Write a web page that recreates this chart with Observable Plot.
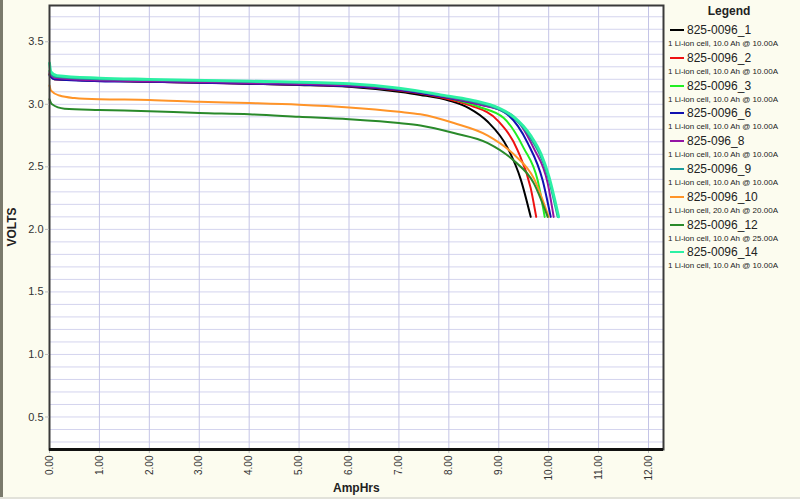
<!DOCTYPE html>
<html><head><meta charset="utf-8">
<script src="https://cdn.jsdelivr.net/npm/d3@7"></script>
<script src="https://cdn.jsdelivr.net/npm/@observablehq/plot@0.6"></script>
<style>
html,body{margin:0;padding:0;}
body{width:800px;height:499px;background:#fcfcef;position:relative;overflow:hidden;font-family:"Liberation Sans",Arial,sans-serif;}
#edge{position:absolute;left:0;top:0;width:3px;height:499px;background:#7a7a6c;}
#bedge{position:absolute;left:0;top:497px;width:800px;height:2px;background:#e2e2da;}
#chart{position:absolute;left:0;top:0;}
#legend{position:absolute;left:665px;top:0;width:135px;height:300px;}
#legend .title{position:absolute;left:0;top:4px;width:128px;text-align:center;font-weight:bold;font-size:12px;color:#222;}
.lname{position:absolute;left:22px;font-size:12px;color:#222;white-space:nowrap;line-height:14px;}
.lsw{position:absolute;left:5px;width:14px;height:2px;}
.lcap{position:absolute;left:3px;font-size:8px;color:#222;white-space:nowrap;line-height:10px;}
#xlabel{position:absolute;left:333px;top:481px;font-size:12px;font-weight:bold;color:#222;}
#ylabel{position:absolute;left:-10px;top:220px;font-size:12px;font-weight:bold;color:#222;transform:rotate(-90deg);width:44px;text-align:center;}
</style></head>
<body>
<div id="edge"></div><div id="bedge"></div>
<div id="chart"></div>
<div id="legend"><div class="title">Legend</div></div>
<div id="xlabel">AmpHrs</div>
<div id="ylabel">VOLTS</div>
<script>
// ---- data ----
const seriesNames = ["825-0096_1","825-0096_2","825-0096_3","825-0096_6","825-096_8","825-0096_9","825-0096_10","825-0096_12","825-0096_14"];
const seriesCaptions = [
  "1 Li-ion cell, 10.0 Ah @ 10.00A",
  "1 Li-ion cell, 10.0 Ah @ 10.00A",
  "1 Li-ion cell, 10.0 Ah @ 10.00A",
  "1 Li-ion cell, 10.0 Ah @ 10.00A",
  "1 Li-ion cell, 10.0 Ah @ 10.00A",
  "1 Li-ion cell, 10.0 Ah @ 10.00A",
  "1 Li-ion cell, 20.0 Ah @ 20.00A",
  "1 Li-ion cell, 10.0 Ah @ 25.00A",
  "1 Li-ion cell, 10.0 Ah @ 10.00A"
];
const seriesColors = ["#000000","#ee1111","#22ee22","#1010b0","#9414a4","#1c9c9c","#ff9428","#2a8a2a","#2cf0a4"];

const s1 = [[0,3.24],[0.1,3.2],[1,3.19],[2,3.18],[3,3.175],[4,3.165],[5,3.155],[6,3.14],[7,3.1],[7.43,3.075],[8,3.03],[8.4,2.97],[8.78,2.86],[9.18,2.65],[9.44,2.4],[9.64,2.1]];
const s2 = [[0,3.24],[0.1,3.2],[1,3.19],[2,3.18],[4,3.165],[6,3.145],[7,3.11],[8,3.04],[8.44,2.99],[8.98,2.87],[9.38,2.63],[9.64,2.33],[9.75,2.1]];
const s3 = [[0,3.27],[0.1,3.22],[1,3.2],[2,3.19],[4,3.175],[6,3.155],[7,3.12],[8,3.05],[8.6,2.98],[9.1,2.89],[9.5,2.65],[9.78,2.39],[9.92,2.1]];
const s6 = [[0,3.23],[0.1,3.2],[1,3.185],[2,3.18],[4,3.165],[6,3.145],[7,3.115],[8,3.05],[8.6,3.0],[9.1,2.94],[9.58,2.69],[9.88,2.39],[10.04,2.1]];
const s8 = [[0,3.25],[0.1,3.21],[1,3.19],[2,3.185],[4,3.17],[6,3.15],[7,3.12],[8,3.055],[8.7,2.99],[9.24,2.92],[9.7,2.65],[9.98,2.37],[10.1,2.1]];
const s9 = [[0,3.26],[0.1,3.22],[1,3.2],[2,3.195],[4,3.18],[6,3.16],[7,3.125],[8,3.06],[8.5,3.02],[9.0,2.96],[9.3,2.89],[9.62,2.74],[9.98,2.43],[10.18,2.1]];
const s10 = [[0,3.15],[0.03,3.11],[0.2,3.07],[0.5,3.05],[1,3.04],[2,3.035],[3,3.02],[4,3.01],[5,2.997],[6,2.975],[7,2.94],[7.43,2.92],[8.1,2.85],[8.78,2.75],[9.3,2.6],[9.7,2.41],[10.0,2.1]];
const s12 = [[0,3.04],[0.05,3.0],[0.3,2.965],[1,2.955],[2,2.945],[3,2.93],[4,2.92],[5,2.9],[6,2.88],[7,2.85],[7.43,2.83],[8.1,2.77],[8.78,2.69],[9.3,2.55],[9.7,2.37],[9.98,2.1]];
const s14 = [[0,3.33],[0.03,3.26],[0.15,3.23],[1,3.21],[2,3.2],[4,3.185],[6,3.165],[7,3.13],[8,3.065],[8.5,3.03],[9.0,2.97],[9.3,2.9],[9.64,2.75],[9.85,2.6],[10.0,2.43],[10.2,2.1]];
const seriesData = [s1,s2,s3,s6,s8,s9,s10,s12,s14];

const xTicks = [0,1,2,3,4,5,6,7,8,9,10,11,12];
const yTicks = [0.5,1.0,1.5,2.0,2.5,3.0,3.5];
const yMinorGrid = d3.range(3, 38).map(d => d / 10);

// ---- chart ----
const lineMarks = seriesData.map((pts, i) =>
  Plot.line(pts, {x: d => d[0], y: d => d[1], stroke: seriesColors[i],
    strokeWidth: i === 8 ? 2.8 : 2, curve: "monotone-x"}));

const chart = Plot.plot({
  width: 665, height: 499,
  marginLeft: 49, marginTop: 5, marginRight: 2, marginBottom: 50,
  style: {background: "transparent", fontFamily: "Liberation Sans, Arial, sans-serif", color: "#333"},
  x: {domain: [0, 12.3], label: null},
  y: {domain: [0.24, 3.79], label: null},
  marks: [
    Plot.frame({fill: "white", stroke: "none"}),
    Plot.gridY(yMinorGrid, {stroke: "#d4d4ee", strokeOpacity: 1}),
    Plot.gridX(xTicks, {stroke: "#c4c4e6", strokeOpacity: 1}),
    ...lineMarks,
    Plot.frame({stroke: "#3a3a3a", strokeWidth: 2}),
    Plot.axisY(yTicks, {tickFormat: d3.format(".1f"), tickSize: 4, tickPadding: 2, stroke: "#bbbbbb", fontSize: 11, label: null}),
    Plot.axisX(xTicks, {tickFormat: d3.format(".2f"), tickRotate: -90, tickSize: 4, tickPadding: 2, stroke: "#bbbbbb", fontSize: 10, label: null}),
    Plot.ruleY([0.24], {stroke: "#111", strokeWidth: 3})
  ]
});
document.getElementById("chart").appendChild(chart);

// ---- legend ----
const leg = document.getElementById("legend");
seriesNames.forEach((name, i) => {
  const top = 23 + i * 27.8;
  const sw = document.createElement("div");
  sw.className = "lsw"; sw.style.top = (top + 6) + "px"; sw.style.background = seriesColors[i];
  leg.appendChild(sw);
  const nm = document.createElement("div");
  nm.className = "lname"; nm.style.top = top + "px"; nm.textContent = name;
  leg.appendChild(nm);
  const cp = document.createElement("div");
  cp.className = "lcap"; cp.style.top = (top + 16) + "px"; cp.textContent = seriesCaptions[i];
  leg.appendChild(cp);
});
</script>
</body></html>
